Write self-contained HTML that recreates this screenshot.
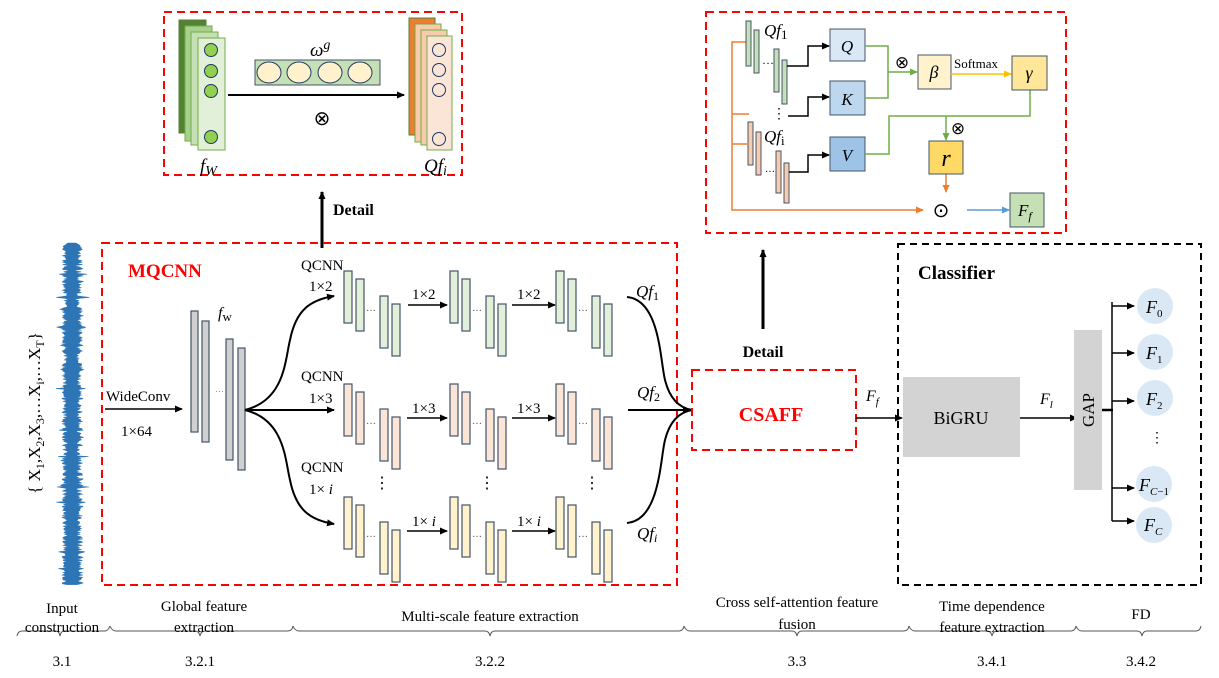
<!DOCTYPE html>
<html><head><meta charset="utf-8"><style>
html,body{margin:0;padding:0;background:#fff;}
svg{display:block;font-family:"Liberation Serif",serif;}
</style></head><body>
<svg id="s" width="1219" height="678" viewBox="0 0 1219 678" xmlns="http://www.w3.org/2000/svg">
<defs>
<marker id="a" markerWidth="8" markerHeight="8" refX="7" refY="4" orient="auto" markerUnits="userSpaceOnUse"><path d="M0,0.5 L8,4 L0,7.5z" fill="#000"/></marker>
<marker id="ag" markerWidth="8" markerHeight="8" refX="7" refY="4" orient="auto" markerUnits="userSpaceOnUse"><path d="M0,0.5 L8,4 L0,7.5z" fill="#70ad47"/></marker>
<marker id="ay" markerWidth="8" markerHeight="8" refX="7" refY="4" orient="auto" markerUnits="userSpaceOnUse"><path d="M0,0.5 L8,4 L0,7.5z" fill="#ffc000"/></marker>
<marker id="ao" markerWidth="8" markerHeight="8" refX="7" refY="4" orient="auto" markerUnits="userSpaceOnUse"><path d="M0,0.5 L8,4 L0,7.5z" fill="#ed7d31"/></marker>
<marker id="ab" markerWidth="8" markerHeight="8" refX="7" refY="4" orient="auto" markerUnits="userSpaceOnUse"><path d="M0,0.5 L8,4 L0,7.5z" fill="#5b9bd5"/></marker>
</defs>

<rect x="164" y="12" width="298" height="163" fill="none" stroke="#ff0000" stroke-width="2" stroke-dasharray="8,5"/>
<rect x="179" y="20" width="27" height="113" fill="#548235" stroke="#548235"/>
<rect x="185" y="26" width="27" height="115" fill="#a9d18e" stroke="#70ad47"/>
<rect x="191" y="32" width="27" height="113" fill="#c5e0b4" stroke="#70ad47"/>
<rect x="198" y="38" width="27" height="112" fill="#e2f0d9" stroke="#70ad47"/>
<g fill="#92d050" stroke="#203864" stroke-width="1">
<circle cx="211" cy="50" r="6.5"/><circle cx="211" cy="71" r="6.5"/><circle cx="211" cy="91" r="6.5"/><circle cx="211" cy="137" r="6.5"/></g>
<rect x="255" y="60" width="125" height="25" fill="#c5e0b4" stroke="#44546a"/>
<g fill="#fff2cc" stroke="#203864"><ellipse cx="269" cy="72.5" rx="12" ry="10.5"/><ellipse cx="299" cy="72.5" rx="12" ry="10.5"/><ellipse cx="330" cy="72.5" rx="12" ry="10.5"/><ellipse cx="360" cy="72.5" rx="12" ry="10.5"/></g>
<text x="310" y="56" font-size="19" font-style="italic">ω<tspan font-size="14" dy="-7">g</tspan></text>
<line x1="228" y1="95" x2="404" y2="95" stroke="#000" stroke-width="2" marker-end="url(#a)"/>
<text x="322" y="125" font-size="20" text-anchor="middle">⊗</text>
<rect x="409" y="18" width="26" height="117" fill="#ed7d31" stroke="#548235"/>
<rect x="415" y="24" width="26" height="118" fill="#f8cbad" stroke="#70ad47"/>
<rect x="421" y="30" width="26" height="115" fill="#f8cbad" stroke="#70ad47"/>
<rect x="427" y="36" width="25" height="114" fill="#fbe5d6" stroke="#70ad47"/>
<g fill="none" stroke="#203864"><circle cx="439" cy="50" r="6.5"/><circle cx="439" cy="70" r="6.5"/><circle cx="439" cy="90" r="6.5"/><circle cx="439" cy="139" r="6.5"/></g>
<text x="200" y="172" font-size="19" font-style="italic">f<tspan font-size="14" dy="3">W</tspan></text>
<text x="424" y="172" font-size="19" font-style="italic">Qf<tspan font-size="14" dy="3">i</tspan></text>

<line x1="322" y1="248" x2="322" y2="192" stroke="#000" stroke-width="3" marker-end="url(#a)"/>
<text x="333" y="215" font-size="16" font-weight="bold">Detail</text>

<rect x="706" y="12" width="360" height="221" fill="none" stroke="#ff0000" stroke-width="2" stroke-dasharray="8,5"/>
<g stroke="#ed7d31" stroke-width="1.5" fill="none">
<polyline points="746,42 732,42 732,210 923,210" marker-end="url(#ao)"/>
<line x1="732" y1="114" x2="749" y2="114"/><line x1="732" y1="144" x2="747" y2="144"/>
<line x1="946" y1="174" x2="946" y2="192" marker-end="url(#ao)"/>
</g>
<g stroke="#44546a" stroke-width="1">
<rect x="746" y="21" width="5" height="45" fill="#c5e0b4"/><rect x="754" y="30" width="5" height="43" fill="#c5e0b4"/>
<rect x="774" y="49" width="5" height="43" fill="#c5e0b4"/><rect x="782" y="60" width="5" height="44" fill="#c5e0b4"/>
<rect x="748" y="122" width="5" height="43" fill="#f8cbad"/><rect x="756" y="132" width="5" height="43" fill="#f8cbad"/>
<rect x="776" y="151" width="5" height="42" fill="#f8cbad"/><rect x="784" y="163" width="5" height="40" fill="#f8cbad"/>
</g>
<text x="762" y="64" font-size="12">…</text><text x="765" y="172" font-size="10">…</text>
<text x="772" y="118" font-size="14">⋮</text>
<text x="764" y="36" font-size="17" font-style="italic">Qf<tspan font-size="13" dy="3" font-style="normal">1</tspan></text>
<text x="764" y="142" font-size="17" font-style="italic">Qf<tspan font-size="13" dy="3" font-style="normal">i</tspan></text>
<g stroke="#000" stroke-width="1.5" fill="none">
<polyline points="787,66 808,66 808,46 829,46" marker-end="url(#a)"/>
<polyline points="788,116 808,116 808,97 829,97" marker-end="url(#a)"/>
<polyline points="789,172 808,172 808,155 829,155" marker-end="url(#a)"/>
</g>
<rect x="830" y="29" width="35" height="32" fill="#dae8f6" stroke="#44546a"/>
<rect x="830" y="81" width="35" height="34" fill="#bdd7ee" stroke="#44546a"/>
<rect x="830" y="137" width="35" height="34" fill="#9dc3e6" stroke="#44546a"/>
<text x="847" y="52" font-size="17" font-style="italic" text-anchor="middle">Q</text>
<text x="847" y="105" font-size="17" font-style="italic" text-anchor="middle">K</text>
<text x="847" y="161" font-size="17" font-style="italic" text-anchor="middle">V</text>
<g stroke="#70ad47" stroke-width="1.5" fill="none">
<polyline points="865,46 888,46 888,98 865,98"/>
<line x1="888" y1="72" x2="917" y2="72" marker-end="url(#ag)"/>
<polyline points="1030,90 1030,116 889,116 889,154 865,154"/>
<line x1="946" y1="116" x2="946" y2="140" marker-end="url(#ag)"/>
</g>
<text x="902" y="68" font-size="17" text-anchor="middle">⊗</text>
<text x="958" y="134" font-size="17" text-anchor="middle">⊗</text>
<rect x="918" y="55" width="33" height="34" fill="#fff2cc" stroke="#44546a"/>
<text x="934" y="78" font-size="18" font-style="italic" text-anchor="middle">β</text>
<line x1="951" y1="74" x2="1011" y2="74" stroke="#ffc000" stroke-width="1.5" marker-end="url(#ay)"/>
<text x="954" y="68" font-size="13">Softmax</text>
<rect x="1012" y="56" width="35" height="34" fill="#ffe699" stroke="#44546a"/>
<text x="1029" y="79" font-size="18" font-style="italic" text-anchor="middle">γ</text>
<rect x="929" y="141" width="34" height="33" fill="#ffd966" stroke="#44546a"/>
<text x="946" y="166" font-size="24" font-style="italic" text-anchor="middle">r</text>
<text x="941" y="217" font-size="20" text-anchor="middle">⊙</text>
<line x1="967" y1="210" x2="1009" y2="210" stroke="#5b9bd5" stroke-width="1.5" marker-end="url(#ab)"/>
<rect x="1010" y="193" width="34" height="34" fill="#c5e0b4" stroke="#44546a"/>
<text x="1018" y="216" font-size="17" font-style="italic">F<tspan font-size="12" dy="4">f</tspan></text>

<path id="wave" fill="#2e75b6" stroke="#2e75b6" stroke-width="0.6" d=""/>
<text transform="translate(40,413) rotate(-90)" font-size="17" text-anchor="middle">{ X<tspan font-size="12" dy="4">1</tspan><tspan dy="-4">,X</tspan><tspan font-size="12" dy="4">2</tspan><tspan dy="-4">,X</tspan><tspan font-size="12" dy="4">3</tspan><tspan dy="-4">,…X</tspan><tspan font-size="12" dy="4">i</tspan><tspan dy="-4">,…X</tspan><tspan font-size="12" dy="4">T</tspan><tspan dy="-4">}</tspan></text>

<rect x="102" y="243" width="575" height="342" fill="none" stroke="#ff0000" stroke-width="2" stroke-dasharray="8,5"/>
<text x="128" y="277" font-size="19" font-weight="bold" fill="#ff0000">MQCNN</text>
<text x="106" y="401" font-size="15">WideConv</text>
<line x1="105" y1="409" x2="182" y2="409" stroke="#000" stroke-width="1.5" marker-end="url(#a)"/>
<text x="121" y="436" font-size="15">1×64</text>
<g fill="#d0d0d0" stroke="#44546a" stroke-width="1.2">
<rect x="191" y="311" width="7" height="121"/><rect x="202" y="321" width="7" height="121"/>
<rect x="226" y="339" width="7" height="121"/><rect x="238" y="348" width="7" height="122"/></g>
<text x="215" y="392" font-size="9" fill="#888">…</text>
<text x="218" y="318" font-size="16" font-style="italic">f<tspan font-size="13" dy="3" font-style="normal">w</tspan></text>
<g stroke="#000" stroke-width="2" fill="none">
<path d="M245,410 C285,400 285,360 290,340 C296,310 310,300 334,296" marker-end="url(#a)"/>
<line x1="245" y1="410" x2="334" y2="410" marker-end="url(#a)"/>
<path d="M245,410 C285,420 285,460 290,480 C296,510 310,520 334,524" marker-end="url(#a)"/>
</g>
<g font-size="15">
<text x="301" y="270">QCNN</text><text x="309" y="291">1×2</text>
<text x="301" y="381">QCNN</text><text x="309" y="403">1×3</text>
<text x="301" y="472">QCNN</text><text x="309" y="494">1× <tspan font-style="italic">i</tspan></text>
</g>
<g id="groups"></g>
<g stroke="#000" stroke-width="1.5">
<line x1="408" y1="305" x2="447" y2="305" marker-end="url(#a)"/><line x1="512" y1="305" x2="555" y2="305" marker-end="url(#a)"/>
<line x1="407" y1="418" x2="447" y2="418" marker-end="url(#a)"/><line x1="512" y1="418" x2="555" y2="418" marker-end="url(#a)"/>
<line x1="407" y1="531" x2="447" y2="531" marker-end="url(#a)"/><line x1="512" y1="531" x2="555" y2="531" marker-end="url(#a)"/>
</g>
<g font-size="15">
<text x="412" y="299">1×2</text><text x="517" y="299">1×2</text>
<text x="412" y="413">1×3</text><text x="517" y="413">1×3</text>
<text x="412" y="526">1× <tspan font-style="italic">i</tspan></text><text x="517" y="526">1× <tspan font-style="italic">i</tspan></text>
</g>
<g font-size="16"><text x="374" y="488">⋮</text><text x="479" y="488">⋮</text><text x="584" y="488">⋮</text></g>
<g stroke="#000" stroke-width="2" fill="none">
<path d="M627,297 C660,300 660,360 665,380 C670,400 680,408 692,410"/>
<line x1="628" y1="410" x2="690" y2="410" marker-end="url(#a)"/>
<path d="M627,523 C660,520 660,460 665,440 C670,420 680,412 692,410"/>
</g>
<g font-size="17" font-style="italic">
<text x="636" y="297">Qf<tspan font-size="12" dy="3" font-style="normal">1</tspan></text>
<text x="637" y="398">Qf<tspan font-size="12" dy="3" font-style="normal">2</tspan></text>
<text x="637" y="539">Qf<tspan font-size="12" dy="3" font-style="italic">i</tspan></text>
</g>

<rect x="692" y="370" width="164" height="80" fill="none" stroke="#ff0000" stroke-width="2" stroke-dasharray="8,5"/>
<text x="771" y="421" font-size="20" font-weight="bold" fill="#ff0000" text-anchor="middle">CSAFF</text>
<text x="763" y="357" font-size="16" font-weight="bold" text-anchor="middle">Detail</text>
<line x1="763" y1="329" x2="763" y2="250" stroke="#000" stroke-width="3" marker-end="url(#a)"/>
<line x1="856" y1="418" x2="902" y2="418" stroke="#000" stroke-width="1.5" marker-end="url(#a)"/>
<text x="866" y="401" font-size="16" font-style="italic">F<tspan font-size="11" dy="4">f</tspan></text>

<rect x="898" y="244" width="303" height="341" fill="none" stroke="#000" stroke-width="2" stroke-dasharray="7,5"/>
<text x="918" y="279" font-size="19" font-weight="bold">Classifier</text>
<rect x="903" y="377" width="117" height="80" fill="#d3d3d3"/>
<text x="961" y="424" font-size="18" text-anchor="middle">BiGRU</text>
<line x1="1020" y1="418" x2="1077" y2="418" stroke="#000" stroke-width="1.5" marker-end="url(#a)"/>
<text x="1040" y="404" font-size="16" font-style="italic">F<tspan font-size="11" dy="4">l</tspan></text>
<rect x="1074" y="330" width="28" height="160" fill="#d3d3d3"/>
<text transform="translate(1094,410) rotate(-90)" font-size="17" text-anchor="middle">GAP</text>
<g stroke="#000" stroke-width="1.5" fill="none">
<line x1="1102" y1="410" x2="1113" y2="410" stroke-width="2.5"/>
<line x1="1112" y1="302" x2="1112" y2="521"/>
<line x1="1112" y1="306" x2="1134" y2="306" marker-end="url(#a)"/>
<line x1="1112" y1="353" x2="1134" y2="353" marker-end="url(#a)"/>
<line x1="1112" y1="401" x2="1134" y2="401" marker-end="url(#a)"/>
<line x1="1112" y1="488" x2="1134" y2="488" marker-end="url(#a)"/>
<line x1="1112" y1="521" x2="1134" y2="521" marker-end="url(#a)"/>
</g>
<g fill="#dae8f6"><circle cx="1155" cy="306" r="18"/><circle cx="1155" cy="352" r="18"/><circle cx="1155" cy="398" r="18"/><circle cx="1154" cy="484" r="18"/><circle cx="1154" cy="525" r="18"/></g>
<g font-size="18" font-style="italic">
<text x="1146" y="313">F<tspan font-size="11" dy="4" font-style="normal">0</tspan></text>
<text x="1146" y="359">F<tspan font-size="11" dy="4" font-style="normal">1</tspan></text>
<text x="1146" y="405">F<tspan font-size="11" dy="4" font-style="normal">2</tspan></text>
<text x="1139" y="491">F<tspan font-size="11" dy="4">C</tspan><tspan font-size="11" font-style="normal">−1</tspan></text>
<text x="1144" y="531">F<tspan font-size="11" dy="4">C</tspan></text>
</g>
<text x="1150" y="442" font-size="14">⋮</text>

<g stroke="#555" stroke-width="1" fill="none">
<path d="M17,636 Q18,631 22,631 L56,631 Q59,631 60,636 Q61,631 64,631 L105,631 Q108,631 110,626"/>
<path d="M110,626 Q112,631 116,631 L195,631 Q199,631 200,636 Q201,631 205,631 L288,631 Q292,631 293,626"/>
<path d="M293,626 Q295,631 299,631 L485,631 Q489,631 490,636 Q491,631 495,631 L679,631 Q683,631 684,626"/>
<path d="M684,626 Q686,631 690,631 L792,631 Q796,631 797,636 Q798,631 802,631 L904,631 Q908,631 909,626"/>
<path d="M909,626 Q911,631 915,631 L987,631 Q991,631 992,636 Q993,631 997,631 L1071,631 Q1075,631 1076,626"/>
<path d="M1076,626 Q1078,631 1082,631 L1137,631 Q1141,631 1142,636 Q1143,631 1147,631 L1196,631 Q1200,631 1201,626"/>
</g>
<g font-size="15" text-anchor="middle">
<text x="62" y="613">Input</text><text x="62" y="632">construction</text>
<text x="204" y="611">Global feature</text><text x="204" y="632">extraction</text>
<text x="490" y="621">Multi-scale feature extraction</text>
<text x="797" y="607">Cross self-attention feature</text><text x="797" y="629">fusion</text>
<text x="992" y="611">Time dependence</text><text x="992" y="632">feature extraction</text>
<text x="1141" y="619">FD</text>
<text x="62" y="666">3.1</text><text x="200" y="666">3.2.1</text><text x="490" y="666">3.2.2</text>
<text x="797" y="666">3.3</text><text x="992" y="666">3.4.1</text><text x="1141" y="666">3.4.2</text>
</g>
</svg>
<script>
(function(){
var NS="http://www.w3.org/2000/svg",g=document.getElementById("groups");
var fills=["#e2f0d9","#fbe5d6","#fff2cc"],ys=[271,384,497],xs=[344,450,556];
var bars=[[0,0],[12,8],[36,25],[48,33]];
for(var r=0;r<3;r++)for(var c=0;c<3;c++){
 bars.forEach(function(b){var e=document.createElementNS(NS,"rect");
 e.setAttribute("x",xs[c]+b[0]);e.setAttribute("y",ys[r]+b[1]);e.setAttribute("width",8);e.setAttribute("height",52);
 e.setAttribute("fill",fills[r]);e.setAttribute("stroke","#44546a");e.setAttribute("stroke-width","1.2");g.appendChild(e);});
 var t=document.createElementNS(NS,"text");t.setAttribute("x",xs[c]+22);t.setAttribute("y",ys[r]+40);
 t.setAttribute("font-size","10");t.setAttribute("fill","#555");t.textContent="…";g.appendChild(t);
}
var seed=7;function rnd(){seed=(seed*16807)%2147483647;return seed/2147483647;}
var L=[],R=[];
for(var y=243;y<=585;y+=0.8){var amp=4+rnd()*6;if(rnd()<0.04)amp+=6;L.push((72-amp).toFixed(1)+","+y.toFixed(1));R.push((72+amp*(0.8+rnd()*0.4)).toFixed(1)+","+y.toFixed(1));}
document.getElementById("wave").setAttribute("d","M"+L.join(" L")+" L"+R.reverse().join(" L")+"Z");
})();
</script>
</body></html>
